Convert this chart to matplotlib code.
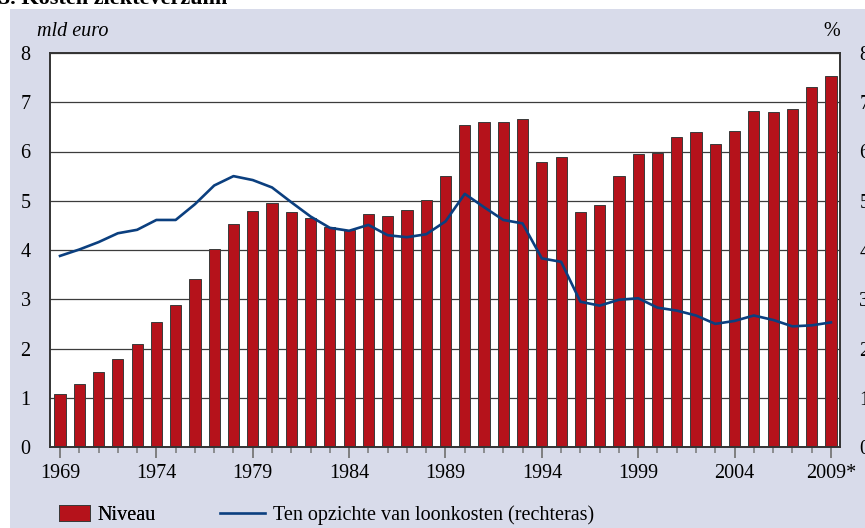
import numpy as np
import matplotlib.pyplot as plt
from matplotlib.patches import Rectangle, Patch
from matplotlib.lines import Line2D
from matplotlib.ticker import MultipleLocator, FixedLocator

years = list(range(1969, 2010))
niveau = [1.08, 1.28, 1.52, 1.78, 2.09, 2.54, 2.88, 3.42, 4.03, 4.52,
          4.79, 4.95, 4.78, 4.64, 4.47, 4.41, 4.73, 4.70, 4.81, 5.01,
          5.50, 6.54, 6.59, 6.60, 6.67, 5.78, 5.88, 4.77, 4.91, 5.50,
          5.95, 5.97, 6.30, 6.39, 6.16, 6.41, 6.82, 6.80, 6.86, 7.30, 7.54]
loonkosten = [3.88, 4.01, 4.16, 4.34, 4.41, 4.61, 4.61, 4.93, 5.31, 5.50,
              5.42, 5.27, 4.97, 4.68, 4.45, 4.39, 4.51, 4.30, 4.26, 4.32,
              4.58, 5.14, 4.87, 4.61, 4.54, 3.83, 3.76, 2.95, 2.87, 2.99,
              3.02, 2.83, 2.77, 2.67, 2.50, 2.56, 2.67, 2.58, 2.45, 2.47, 2.53]
xlabels = ['1969', '1974', '1979', '1984', '1989', '1994', '1999', '2004', '2009*']

RED = '#B5121B'
BLUE = '#0B3F7F'
BG = '#D8DBEA'
FS = 14.5

plt.rcParams['font.family'] = 'Liberation Serif'
plt.rcParams['font.size'] = FS

fig = plt.figure(figsize=(8.65, 5.28), dpi=100)
fig.patch.set_facecolor('white')
fig.patches.append(Rectangle((10 / 865, 0), 1, 1 - 9 / 528, transform=fig.transFigure,
                             facecolor=BG, edgecolor='none', zorder=-10))
# title is cut off at the top edge in the original
fig.text(-0.001, 1 - 4 / 528, '5. Kosten ziekteverzuim', fontweight='bold',
         fontsize=16, va='baseline', ha='left')

ax = fig.add_axes([50 / 865, 1 - 447 / 528, 790 / 865, 394 / 528])
ax.set_facecolor('white')
ax.bar(years, niveau, width=0.58, color=RED, edgecolor='#3a3a3a', linewidth=0.7, zorder=3)
ax.set_xlim(1968.48, 2009.47)
ax.set_ylim(0, 8)
ax.set_yticks(range(0, 9))
ax.grid(axis='y', color='#3c3c3c', linewidth=0.9, zorder=1)
ax.tick_params(axis='y', length=0, pad=14)
ax.xaxis.set_major_locator(FixedLocator(years[::5]))
ax.set_xticklabels(xlabels)
ax.xaxis.set_minor_locator(MultipleLocator(1))
ax.tick_params(axis='x', which='major', length=8, width=1.3, color='#777777',
               direction='out', pad=4)
ax.tick_params(axis='x', which='minor', length=4, width=1.1, color='#777777', direction='out')
for s in ax.spines.values():
    s.set_color('#333333')
    s.set_linewidth(1.2)
    s.set_zorder(5)

ax2 = ax.twinx()
ax2.plot(years, loonkosten, color=BLUE, linewidth=1.9, zorder=4)
ax2.set_ylim(0, 8)
ax2.set_yticks(range(0, 9))
ax2.tick_params(axis='y', length=0, pad=14)
for s in ax2.spines.values():
    s.set_color('#333333')
    s.set_linewidth(1.2)

fig.text(37 / 865, 1 - 32 / 528, 'mld euro', style='italic', va='center')
fig.text(832 / 865, 1 - 32 / 528, '%', va='center', ha='center')

leg1 = fig.legend(handles=[Patch(facecolor=RED, edgecolor='#3a3a3a', linewidth=0.7)],
                  labels=['Niveau'], loc='center left', bbox_to_anchor=(59 / 865, 1 - 515 / 528),
                  frameon=False, borderpad=0, borderaxespad=0,
                  handlelength=1.55, handleheight=0.8, handletextpad=0.35)
leg2 = fig.legend(handles=[Line2D([], [], color=BLUE, linewidth=1.9)],
                  labels=['Ten opzichte van loonkosten (rechteras)'], loc='center left',
                  bbox_to_anchor=(220 / 865, 1 - 515 / 528), frameon=False,
                  borderpad=0, borderaxespad=0, handlelength=2.25, handletextpad=0.4)
fig.add_artist(leg1)

fig.savefig('out.png', dpi=100)
